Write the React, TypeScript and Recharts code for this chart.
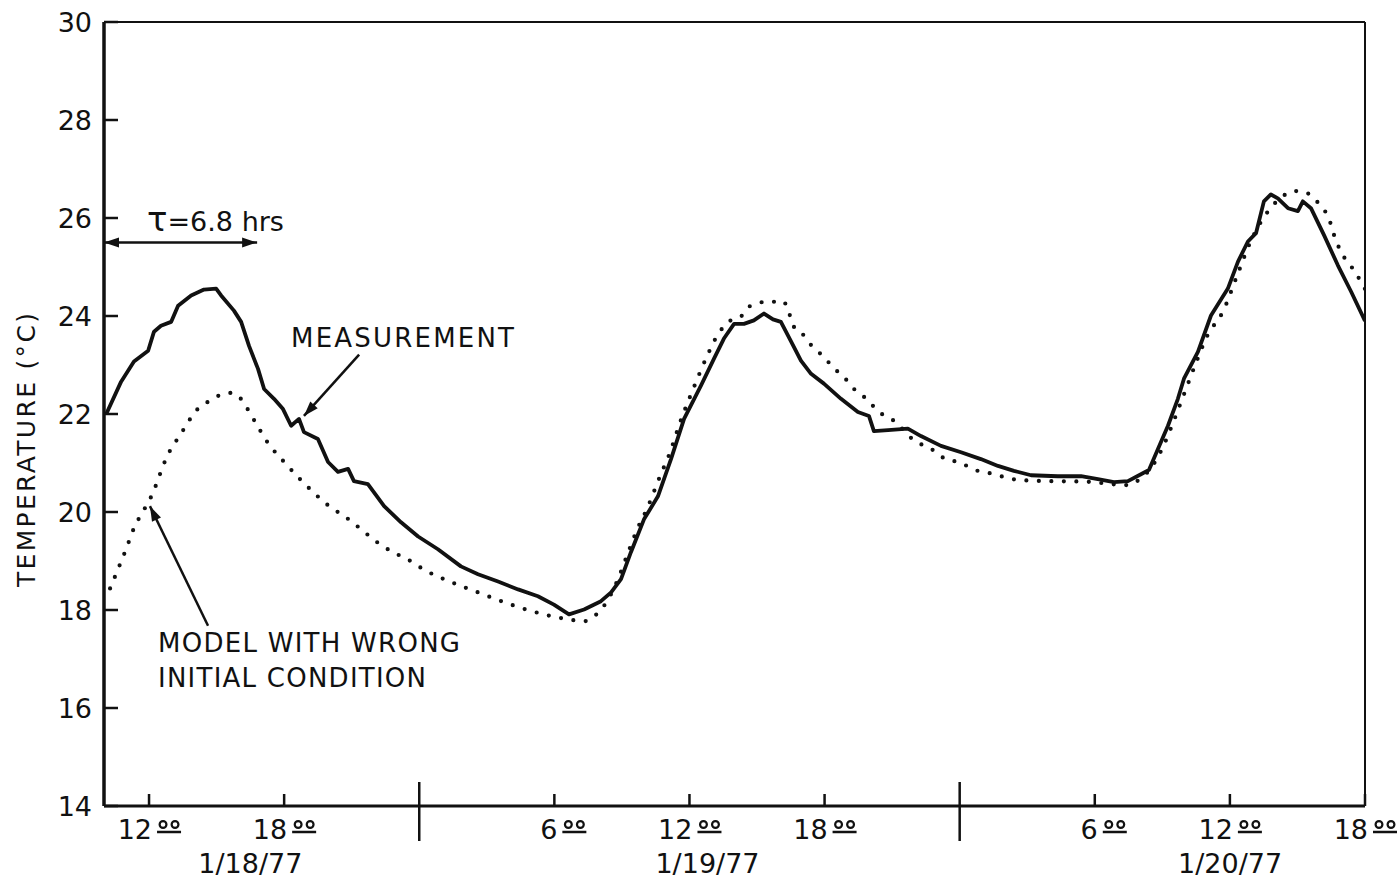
import { LineChart, Line, XAxis, YAxis, ReferenceLine, Customized } from 'recharts'

// hours counted from 1/18/77 00:00
const measHours = [
  10.1, 10.76, 11.33, 11.96, 12.22, 12.53, 12.98, 13.29, 13.87, 14.44, 14.98, 15.2, 15.77, 16.09,
  16.44, 16.84, 17.11, 17.55, 17.95, 18.31, 18.66, 18.88, 19.5, 19.95, 20.39, 20.84, 21.1, 21.72,
  22.44, 23.19, 23.95, 24.83, 25.85, 26.61, 27.5, 28.39, 29.27, 29.98, 30.65, 31.32, 32.07, 32.52,
  32.96, 33.4, 33.98, 34.6, 35.18, 35.76, 36.51, 37.09, 37.53, 37.98, 38.42, 38.86, 39.31, 39.71,
  40.06, 40.51, 40.95, 41.4, 41.97, 42.73, 43.48, 43.97, 44.19, 44.82, 45.7, 46.28, 47.17, 48.06,
  48.94, 49.7, 50.41, 51.17, 52.36, 53.39, 54.14, 54.85, 55.47, 56.05, 56.41, 56.81, 57.25, 57.69,
  57.96, 58.58, 59.16, 59.91, 60.36, 60.8, 61.16, 61.51, 61.82, 62.13, 62.58, 63.02, 63.24, 63.6,
  64.18, 64.8, 65.38, 66.0,
]
const measTemps = [
  22.0, 22.66, 23.07, 23.29, 23.68, 23.8, 23.88, 24.21, 24.42, 24.54, 24.56, 24.42, 24.11, 23.88,
  23.39, 22.92, 22.51, 22.31, 22.1, 21.76, 21.9, 21.63, 21.49, 21.02, 20.82, 20.88, 20.63, 20.57,
  20.12, 19.79, 19.5, 19.24, 18.89, 18.73, 18.58, 18.42, 18.28, 18.11, 17.91, 18.01, 18.18, 18.36,
  18.63, 19.18, 19.85, 20.32, 21.08, 21.9, 22.58, 23.13, 23.54, 23.84, 23.84, 23.91, 24.05, 23.93,
  23.88, 23.48, 23.09, 22.82, 22.62, 22.31, 22.04, 21.96, 21.65, 21.67, 21.7, 21.55, 21.35, 21.22,
  21.08, 20.94, 20.84, 20.75, 20.73, 20.73, 20.67, 20.61, 20.63, 20.77, 20.86, 21.29, 21.76, 22.31,
  22.72, 23.27, 24.01, 24.56, 25.11, 25.52, 25.69, 26.34, 26.48, 26.4, 26.2, 26.14, 26.34, 26.2,
  25.65, 25.03, 24.5, 23.9,
]

const modelHours = [
  10.27, 10.62, 10.98, 11.33, 11.69, 12.04, 12.36, 12.62, 12.93, 13.29, 13.64, 14.0, 14.62, 14.98,
  15.64, 16.0, 16.31, 16.71, 17.28, 18.0, 18.75, 19.3, 20.0, 20.75, 21.41, 22.08, 22.75, 23.5,
  24.3, 25.1, 26.61, 28.07, 29.54, 30.61, 31.32, 31.76, 32.3, 32.8, 33.3, 33.7, 34.07, 34.73,
  35.09, 35.6, 36.2, 36.8, 37.3, 37.8, 38.29, 38.64, 38.95, 39.31, 39.71, 40.11, 40.37, 40.6,
  40.91, 41.26, 41.71, 42.02, 42.37, 42.73, 43.31, 43.75, 44.06, 44.37, 45.08, 46.01, 46.73, 47.3,
  48.06, 48.72, 49.08, 49.83, 50.37, 50.72, 52.0, 53.5, 55.47, 56.05, 56.5, 57.0, 57.5, 58.0,
  58.5, 59.0, 59.69, 60.3, 60.9, 61.7, 62.4, 62.8, 63.11, 63.47, 63.73, 63.96, 64.36, 64.71,
  65.02, 65.42, 65.82, 66.0,
]
const modelTemps = [
  18.44, 18.83, 19.24, 19.67, 19.98, 20.26, 20.61, 20.94, 21.25, 21.51, 21.76, 22.02, 22.25, 22.35,
  22.43, 22.35, 22.15, 21.84, 21.41, 21.02, 20.65, 20.4, 20.12, 19.89, 19.65, 19.4, 19.2, 19.03,
  18.8, 18.63, 18.36, 18.11, 17.91, 17.81, 17.77, 17.87, 18.15, 18.6, 19.2, 19.67, 20.02, 20.77,
  21.16, 21.85, 22.55, 23.2, 23.65, 23.9, 23.99, 24.19, 24.23, 24.29, 24.29, 24.31, 24.15, 23.8,
  23.7, 23.48, 23.27, 23.15, 22.94, 22.82, 22.51, 22.35, 22.21, 22.06, 21.86, 21.45, 21.29, 21.1,
  21.0, 20.85, 20.82, 20.73, 20.67, 20.65, 20.63, 20.62, 20.55, 20.69, 20.9, 21.3, 21.85, 22.45,
  23.05, 23.6, 24.09, 24.8, 25.5, 26.14, 26.46, 26.55, 26.55, 26.5, 26.42, 26.28, 26.03, 25.54,
  25.24, 24.99, 24.7, 24.55,
]

const hourTicks = [12, 18, 24, 30, 36, 42, 48, 54, 60, 66]
const hourLabels: Record<number, string> = { 12: '12', 18: '18', 30: '6', 36: '12', 42: '18', 54: '6', 60: '12', 66: '18' }
const midnights = [24, 48]
const dayTicks = [16.5, 36.8, 60.01]
const dayLabels = ['1/18/77', '1/19/77', '1/20/77']
const tempTicks = [14, 16, 18, 20, 22, 24, 26, 28, 30]

const allXTicks = [...hourTicks, ...dayTicks].sort((a, b) => a - b)
const measurement = measHours.map((h, i) => ({ h, t: measTemps[i] }))
const model = modelHours.map((h, i) => ({ h, t: modelTemps[i] }))

const INK = '#111'
const FONT = 'DejaVu Sans'

function HourTick({ x, y, payload }: any) {
  const v = payload.value
  const day = dayTicks.indexOf(v)
  if (day >= 0) {
    return (
      <text x={x} y={y + 67} textAnchor="middle" fontSize={27} fontFamily={FONT} fill={INK}>
        {dayLabels[day]}
      </text>
    )
  }
  if (midnights.includes(v)) {
    return <line x1={x} x2={x} y1={y - 24} y2={y + 35} stroke={INK} strokeWidth={2.5} />
  }
  return (
    <g>
      <line x1={x} x2={x} y1={y} y2={y - 12} stroke={INK} strokeWidth={2.5} />
      <text x={x + 3} y={y + 33} textAnchor="end" fontSize={27} fontFamily={FONT} fill={INK}>{hourLabels[v]}</text>
      <circle cx={x + 14} cy={y + 18.5} r={3.4} fill="none" stroke={INK} strokeWidth={2.2} />
      <circle cx={x + 26} cy={y + 18.5} r={3.4} fill="none" stroke={INK} strokeWidth={2.2} />
      <line x1={x + 8} x2={x + 32} y1={y + 26} y2={y + 26} stroke={INK} strokeWidth={2.5} />
    </g>
  )
}

function TempTick({ x, y, payload }: any) {
  return (
    <g>
      <line x1={x} x2={x + 14} y1={y} y2={y} stroke={INK} strokeWidth={2.5} />
      <text x={x - 12} y={y} dy="0.36em" textAnchor="end" fontSize={27} fontFamily={FONT} fill={INK}>{payload.value}</text>
    </g>
  )
}

function arrow(both: boolean) {
  return (p: any) => {
    const { x1, y1, x2, y2 } = p
    const a = Math.atan2(y2 - y1, x2 - x1)
    const head = (px: number, py: number, ang: number) => {
      const L = 15, W = 5
      const bx = px - L * Math.cos(ang), by = py - L * Math.sin(ang)
      const nx = -Math.sin(ang) * W, ny = Math.cos(ang) * W
      return <polygon points={`${px},${py} ${bx + nx},${by + ny} ${bx - nx},${by - ny}`} fill={INK} />
    }
    return (
      <g>
        <line x1={x1} y1={y1} x2={x2} y2={y2} stroke={INK} strokeWidth={2.5} />
        {head(x2, y2, a)}
        {both && head(x1, y1, a + Math.PI)}
      </g>
    )
  }
}

function Notes() {
  return (
    <g fontFamily={FONT} fill={INK}>
      <text transform="translate(26,450) rotate(-90)" textAnchor="middle" dy="0.36em" fontSize={25} textLength={274} lengthAdjust="spacing">TEMPERATURE (°C)</text>
      <text x={147} y={231} fontSize={27}><tspan fontSize={34}>τ</tspan>=6.8 hrs</text>
      <text x={291} y={347} fontSize={26} textLength={223} lengthAdjust="spacing">MEASUREMENT</text>
      <text x={158} y={652} fontSize={26} textLength={302} lengthAdjust="spacing">MODEL WITH WRONG</text>
      <text x={158} y={687} fontSize={26} textLength={268} lengthAdjust="spacing">INITIAL CONDITION</text>
    </g>
  )
}

export default function App() {
  return (
    <div style={{ position: 'absolute', left: 0, top: 0, background: '#fff' }}>
      <LineChart width={1399} height={881} margin={{ top: 22, right: 34, bottom: 0, left: 44 }}>
        <XAxis
          dataKey="h"
          type="number"
          domain={[10, 66]}
          ticks={allXTicks}
          interval={0}
          height={75}
          tickSize={0}
          tickMargin={0}
          tickLine={false}
          axisLine={{ stroke: INK, strokeWidth: 3 }}
          tick={<HourTick />}
          allowDataOverflow
        />
        <YAxis
          dataKey="t"
          type="number"
          domain={[14, 30]}
          ticks={tempTicks}
          interval={0}
          width={60}
          tickSize={0}
          tickMargin={0}
          tickLine={false}
          axisLine={{ stroke: INK, strokeWidth: 3.5 }}
          tick={<TempTick />}
          allowDataOverflow
        />
        <ReferenceLine y={30} stroke={INK} strokeWidth={2} ifOverflow="visible" />
        <ReferenceLine x={66} stroke={INK} strokeWidth={2} ifOverflow="visible" />
        <Line
          data={model}
          dataKey="t"
          type="monotone"
          stroke={INK}
          strokeWidth={4.2}
          strokeDasharray="0 12.5"
          strokeLinecap="round"
          dot={false}
          activeDot={false}
          isAnimationActive={false}
        />
        <Line
          data={measurement}
          dataKey="t"
          type="linear"
          stroke={INK}
          strokeWidth={3.8}
          strokeLinejoin="round"
          dot={false}
          activeDot={false}
          isAnimationActive={false}
        />
        <ReferenceLine segment={[{ x: 10, y: 25.5 }, { x: 16.8, y: 25.5 }]} shape={arrow(true)} ifOverflow="visible" />
        <ReferenceLine segment={[{ x: 21.33, y: 23.21 }, { x: 18.88, y: 21.96 }]} shape={arrow(false)} ifOverflow="visible" />
        <ReferenceLine segment={[{ x: 14.62, y: 17.68 }, { x: 12.04, y: 20.12 }]} shape={arrow(false)} ifOverflow="visible" />
        <Customized component={<Notes />} />
      </LineChart>
    </div>
  )
}
